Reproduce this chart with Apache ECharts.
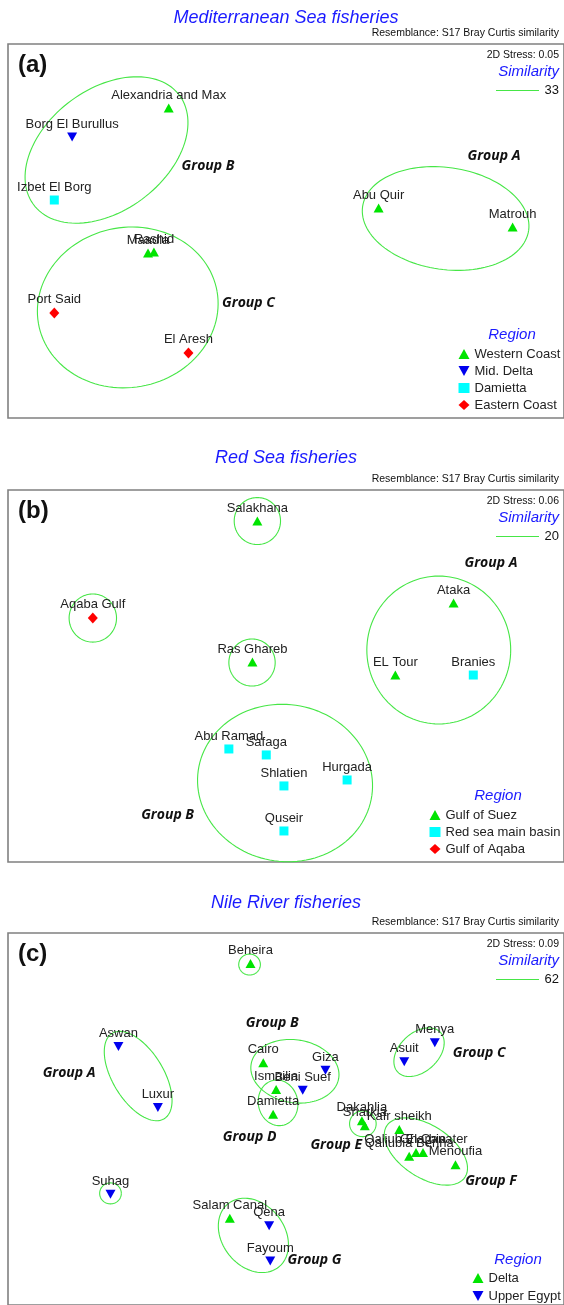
<!DOCTYPE html>
<html><head><meta charset="utf-8">
<script src="https://cdn.jsdelivr.net/npm/echarts@6/dist/echarts.min.js"></script>
<style>html,body{margin:0;padding:0;background:#fff}#c{width:564px;height:1305px}</style>
</head><body><div id="c"></div>
<script>
// ---------- Panel (a) Mediterranean Sea ----------
const medSites  = ['Alexandria and Max','Borg El Burullus','Izbet El Borg','Maadia','Rashid','Port Said','El Aresh','Abu Quir','Matrouh'];
const medX      = [-0.827,-1.532,-1.662,-0.978,-0.935,-1.662,-0.683,0.705,1.683];
const medY      = [0.885,0.676,0.223,-0.158,-0.151,-0.590,-0.878,0.165,0.029];
const medRegion = ['Western Coast','Mid. Delta','Damietta','Western Coast','Western Coast','Eastern Coast','Eastern Coast','Western Coast','Western Coast'];
const medRegions = ['Western Coast','Mid. Delta','Damietta','Eastern Coast'];
const medGroups = ['Group A','Group B','Group C'];
const medGroupX = [1.547,-0.540,-0.245];
const medGroupY = [0.540,0.468,-0.518];
const medEllCx  = [1.194,-1.281,-1.126];
const medEllCy  = [0.090,0.583,-0.550];
const medEllA   = [0.612,0.662,0.662];
const medEllB   = [0.367,0.439,0.576];
const medEllAng = [-8,36,10];

// ---------- Panel (b) Red Sea ----------
const redSites  = ['Salakhana','Aqaba Gulf','Ras Ghareb','Ataka','EL Tour','Branies','Abu Ramad','Safaga','Shlatien','Hurgada','Quseir'];
const redX      = [-0.180,-1.381,-0.216,1.252,0.827,1.396,-0.388,-0.115,0.014,0.475,0.014];
const redY      = [1.115,0.417,0.101,0.525,0.007,0.007,-0.525,-0.568,-0.791,-0.748,-1.115];
const redRegion = ['Gulf of Suez','Gulf of Aqaba','Gulf of Suez','Gulf of Suez','Gulf of Suez','Red sea main basin','Red sea main basin','Red sea main basin','Red sea main basin','Red sea main basin','Red sea main basin'];
const redRegions = ['Gulf of Suez','Red sea main basin','Gulf of Aqaba'];
const redGroups = ['Group A','Group B'];
const redGroupX = [1.525,-0.835];
const redGroupY = [0.813,-1.000];
const redEllCx  = [-0.180,-1.381,-0.219,1.144,0.022];
const redEllCy  = [1.115,0.417,0.097,0.187,-0.770];
const redEllA   = [0.169,0.173,0.169,0.532,0.640];
const redEllB   = [0.169,0.173,0.169,0.525,0.565];
const redEllAng = [0,0,0,90,-8];

// ---------- Panel (c) Nile River ----------
const nileSites  = ['Beheira','Aswan','Luxur','Cairo','Giza','Ismailia','Beni Suef','Damietta','Asuit','Menya','Dakahlia','Sharkia','Kafr sheikh','Qaliubia Benha','Qaliub El Qanater','Gharbia','Menoufia','Suhag','Salam Canal','Qena','Fayoum'];
const nileX      = [-0.230,-1.194,-0.906,-0.137,0.317,-0.043,0.151,-0.065,0.892,1.115,0.583,0.604,0.856,0.928,0.978,1.029,1.266,-1.252,-0.381,-0.094,-0.086];
const nileY      = [1.173,0.547,0.086,0.424,0.367,0.223,0.216,0.036,0.432,0.576,-0.014,-0.050,-0.079,-0.281,-0.252,-0.252,-0.345,-0.568,-0.748,-0.806,-1.072];
const nileRegion = ['Delta','Upper Egypt','Upper Egypt','Delta','Upper Egypt','Delta','Upper Egypt','Delta','Upper Egypt','Upper Egypt','Delta','Delta','Delta','Delta','Delta','Delta','Delta','Upper Egypt','Delta','Upper Egypt','Upper Egypt'];
const nileRegions = ['Delta','Upper Egypt'];
const nileGroups = ['Group A','Group B','Group C','Group D','Group E','Group F','Group G'];
const nileGroupX = [-1.554,-0.072,1.439,-0.237,0.396,1.525,0.237];
const nileGroupY = [0.345,0.727,0.496,-0.137,-0.194,-0.468,-1.065];
const nileEllCx  = [-0.237,-1.050,0.094,-0.029,1.000,0.590,1.050,-1.252,-0.209];
const nileEllCy  = [1.165,0.324,0.360,0.122,0.504,-0.036,-0.245,-0.561,-0.878];
const nileEllA   = [0.079,0.374,0.324,0.173,0.216,0.097,0.345,0.079,0.302];
const nileEllB   = [0.079,0.187,0.237,0.144,0.144,0.097,0.194,0.079,0.230];
const nileEllAng = [0,-60,-10,-80,45,0,-35,0,-55];

// ---------- panel texts ----------
const panelTitles  = ['Mediterranean Sea fisheries','Red Sea fisheries','Nile River fisheries'];
const panelLetters = ['(a)','(b)','(c)'];
const panelStress  = ['0.05','0.06','0.09'];
const panelSimilarity = ['33','20','62'];

// ---------- styling ----------
const SANS = '"Liberation Sans", Arial, sans-serif';
const GREEN = '#00e400', BLUE = '#0000ee', CYAN = '#00ffff', RED = '#ff0000';
const ELL = '#46e646';
const TITLE_BLUE = '#1a1aff';
const DOWN = 'path://M0,0L10,0L5,9Z';
const regionStyle = {
  'Western Coast': {symbol:'triangle', size:[10,9], color:GREEN},
  'Mid. Delta':    {symbol:DOWN, size:[10,9], color:BLUE},
  'Damietta':      {symbol:'rect', size:[9,9], color:CYAN},
  'Eastern Coast': {symbol:'diamond', size:[10,11], color:RED},
  'Gulf of Suez':  {symbol:'triangle', size:[10,9], color:GREEN},
  'Red sea main basin': {symbol:'rect', size:[9,9], color:CYAN},
  'Gulf of Aqaba': {symbol:'diamond', size:[10,11], color:RED},
  'Delta':         {symbol:'triangle', size:[10,9], color:GREEN},
  'Upper Egypt':   {symbol:DOWN, size:[10,9], color:BLUE}
};

const GRID_LEFT = 8, GRID_W = 564;
const panelTop = [44, 490, 933];
const panelH   = [374, 372, 390];
const X_MIN = -2, X_MAX = 2.058;
const unitPx = GRID_W / (X_MAX - X_MIN);

const panels = [
  {sites:medSites,x:medX,y:medY,region:medRegion,regions:medRegions,groups:medGroups,gx:medGroupX,gy:medGroupY,ecx:medEllCx,ecy:medEllCy,ea:medEllA,eb:medEllB,eang:medEllAng},
  {sites:redSites,x:redX,y:redY,region:redRegion,regions:redRegions,groups:redGroups,gx:redGroupX,gy:redGroupY,ecx:redEllCx,ecy:redEllCy,ea:redEllA,eb:redEllB,eang:redEllAng},
  {sites:nileSites,x:nileX,y:nileY,region:nileRegion,regions:nileRegions,groups:nileGroups,gx:nileGroupX,gy:nileGroupY,ecx:nileEllCx,ecy:nileEllCy,ea:nileEllA,eb:nileEllB,eang:nileEllAng}
];
const legendPos = [{left:458.5, top:346, gap:1, regionX:512, regionY:335},
                   {left:429.5, top:807, gap:1, regionX:498, regionY:796},
                   {left:472.5, top:1270, gap:2, regionX:518, regionY:1260}];

function ellipseRender(params, api){
  const cx=api.value(0), cy=api.value(1), a=api.value(2), b=api.value(3), th=api.value(4)*Math.PI/180;
  const pts=[];
  for(let k=0;k<=120;k++){
    const t=k/120*2*Math.PI, u=a*Math.cos(t), v=b*Math.sin(t);
    pts.push(api.coord([cx+u*Math.cos(th)-v*Math.sin(th), cy+u*Math.sin(th)+v*Math.cos(th)]));
  }
  return {type:'polyline', shape:{points:pts}, style:{fill:null, stroke:ELL, lineWidth:1.1}, silent:true};
}
function groupRenderFactory(names){
  return function(params, api){
    const p = api.coord([api.value(0), api.value(1)]);
    return {type:'text', x:p[0], y:p[1], silent:true,
      style:{text:names[params.dataIndex], fill:'#111', align:'center', verticalAlign:'middle',
             font:'italic bold 14px "Open Sans", sans-serif'}};
  };
}

const grids=[], xAxes=[], yAxes=[], series=[], legends=[], graphics=[];
panels.forEach((P,i)=>{
  const yHalf = panelH[i]/2/unitPx;
  grids.push({left:GRID_LEFT, top:panelTop[i], width:GRID_W, height:panelH[i], show:true, borderColor:'#808080', borderWidth:1.6, backgroundColor:'transparent'});
  xAxes.push({gridIndex:i, type:'value', min:X_MIN, max:X_MAX, show:false});
  yAxes.push({gridIndex:i, type:'value', min:-yHalf, max:yHalf, show:false});
  series.push({type:'custom', xAxisIndex:i, yAxisIndex:i, renderItem:ellipseRender, clip:false, z:1,
    data:P.ecx.map((v,k)=>[v,P.ecy[k],P.ea[k],P.eb[k],P.eang[k]]), encode:{x:0,y:1}});
  P.regions.forEach(r=>{
    const st = regionStyle[r];
    series.push({type:'scatter', name:r, xAxisIndex:i, yAxisIndex:i, symbol:st.symbol, symbolSize:st.size, z:3,
      itemStyle:{color:st.color, opacity:1},
      label:{show:true, formatter:'{b}', position:'top', distance:2, color:'#222', fontSize:13, fontFamily:SANS},
      emphasis:{disabled:true},
      data:P.sites.map((s,k)=>({name:s, value:[P.x[k],P.y[k]], region:P.region[k]})).filter(d=>d.region===r)
        .map(d=>({name:d.name, value:d.value}))});
  });
  series.push({type:'custom', xAxisIndex:i, yAxisIndex:i, renderItem:groupRenderFactory(P.groups), z:4,
    data:P.gx.map((v,k)=>[v,P.gy[k]]), encode:{x:0,y:1}});
  const L = legendPos[i];
  legends.push({orient:'vertical', left:L.left, top:L.top, padding:0, height:80, itemWidth:11, itemHeight:10, itemGap:L.gap, selectedMode:false,
    textStyle:{fontSize:13, fontFamily:SANS, color:'#222', lineHeight:16},
    data:P.regions.map(r=>({name:r, icon:regionStyle[r].symbol, itemStyle:{color:regionStyle[r].color}}))});
  graphics.push({type:'text', x:L.regionX, y:L.regionY, style:{text:'Region', fill:TITLE_BLUE, align:'center', verticalAlign:'middle', font:'italic 15px '+SANS}});
  const T = panelTop[i];
  graphics.push({type:'text', x:286, y:(i===0?18:(i===1?458:903)), style:{text:panelTitles[i], fill:TITLE_BLUE, align:'center', verticalAlign:'middle', font:'italic 18px '+SANS}});
  graphics.push({type:'text', x:559, y:T-10.5, style:{text:'Resemblance: S17 Bray Curtis similarity', fill:'#111', align:'right', verticalAlign:'middle', font:'10.5px '+SANS}});
  graphics.push({type:'text', x:18, y:T+21, style:{text:panelLetters[i], fill:'#111', align:'left', verticalAlign:'middle', font:'bold 24px '+SANS}});
  graphics.push({type:'text', x:559, y:T+11, style:{text:'2D Stress: '+panelStress[i], fill:'#111', align:'right', verticalAlign:'middle', font:'10.5px '+SANS}});
  graphics.push({type:'text', x:559, y:T+28, style:{text:'Similarity', fill:TITLE_BLUE, align:'right', verticalAlign:'middle', font:'italic 15px '+SANS}});
  graphics.push({type:'line', shape:{x1:496, y1:T+46.5, x2:539, y2:T+46.5}, style:{stroke:ELL, lineWidth:1.1}});
  graphics.push({type:'text', x:559, y:T+46, style:{text:panelSimilarity[i], fill:'#111', align:'right', verticalAlign:'middle', font:'13px '+SANS}});
});

const chart = echarts.init(document.getElementById('c'), null, {renderer:'canvas'});
chart.setOption({
  animation:false,
  backgroundColor:'#fff',
  grid:grids, xAxis:xAxes, yAxis:yAxes,
  legend:legends,
  series:series,
  graphic:{elements:graphics}
});
</script></body></html>
